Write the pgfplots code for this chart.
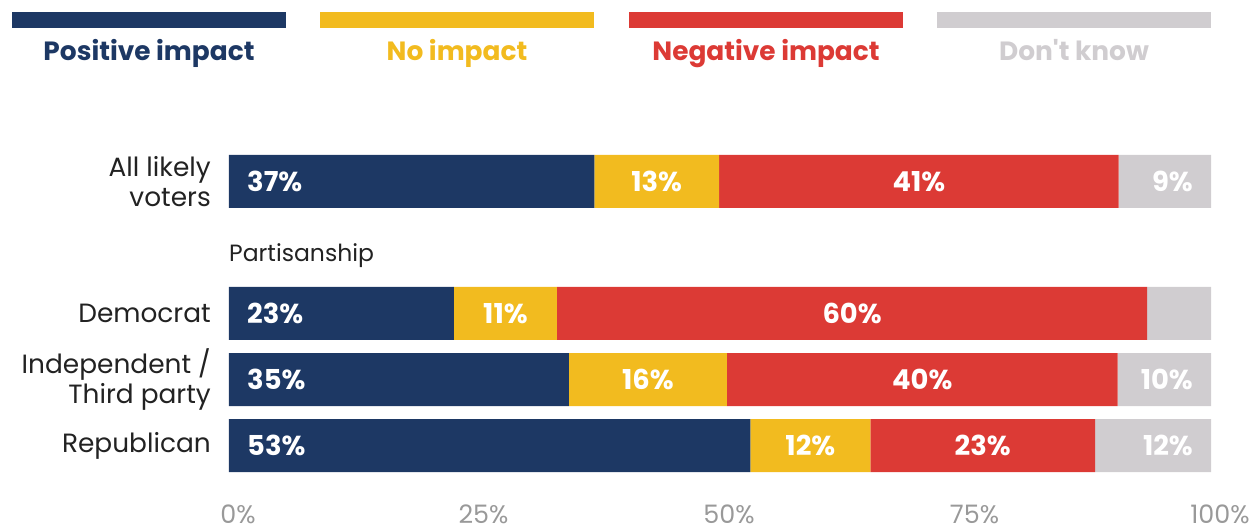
\documentclass[border=0pt]{standalone}
\usepackage{fontspec}
\setmainfont{Poppins}
\usepackage{pgfplots}
\pgfplotsset{compat=1.18}
\usepackage{pgfplotstable}

\definecolor{cpos}{HTML}{1D3864}
\definecolor{cno}{HTML}{F2BB1F}
\definecolor{cneg}{HTML}{DC3A35}
\definecolor{cdk}{HTML}{D0CDD0}
\definecolor{ctick}{HTML}{999999}
\definecolor{ctext}{HTML}{222222}

% bar segments (share of respondents, %)
\pgfplotstableread{
y pos no neg dk
0 53.1 12.2 22.9 11.8
1 34.6 16.1 39.8 9.5
2 22.9 10.5 60.1 6.5
4 37.2 12.7 40.7 9.4
}\bars

% labels at bar start (positive impact)
\pgfplotstableread{
x y lab
0 0 53
0 1 35
0 2 23
0 4 37
}\labpos

% labels centred in the middle segments
\pgfplotstableread{
x y lab
59.2 0 12
76.75 0 23
42.65 1 16
70.6 1 40
28.15 2 11
63.45 2 60
43.55 4 13
70.25 4 41
}\labmid

% labels at bar end (don't know)
\pgfplotstableread{
x y lab
100 0 12
100 1 10
100 4 9
}\labdk

\newcommand{\fs}{\fontsize{26.5}{30}\selectfont}
\newcommand{\fl}{\fontsize{26.5}{30}\selectfont\fontseries{sb}\selectfont}
\newcommand{\fb}{\fontsize{27.5}{30}\selectfont\fontseries{sb}\selectfont}

\pgfplotsset{
  base/.style={
    scale only axis, width=982bp, height=337bp,
    xmin=0, xmax=100, ymin=-0.55, ymax=4.55,
  },
}

\begin{document}
\begin{tikzpicture}
\begin{axis}[base,
  xbar stacked, bar width=53bp,
  axis line style={draw=none}, major tick length=0pt,
  ytick={0,1,2,4},
  yticklabels={Republican,{Independent /\\Third party},Democrat,{All likely\\voters}},
  yticklabel style={align=right, font=\fs, text=ctext, inner sep=0pt, xshift=-18bp},
  xtick={0,25,50,75,100},
  xticklabels={0\%,25\%,50\%,75\%,100\%},
  xticklabel style={font=\fontsize{25.5}{28}\selectfont, text=ctick, inner sep=0pt, anchor=base, yshift=-42bp, xshift=9bp},
  clip=false,
]
\addplot[fill=cpos, draw=none] table[x=pos, y=y] {\bars};
\addplot[fill=cno, draw=none] table[x=no, y=y] {\bars};
\addplot[fill=cneg, draw=none] table[x=neg, y=y] {\bars};
\addplot[fill=cdk, draw=none] table[x=dk, y=y] {\bars};
\node[anchor=west, inner sep=0pt, font=\fontsize{23.6}{28}\selectfont, text=ctext] at (axis cs:0,2.87) {Partisanship};
\coordinate (P0) at (rel axis cs:0,0);
\end{axis}

\begin{axis}[base, hide axis]
\addplot[draw=none, mark=none, point meta=explicit symbolic,
  nodes near coords={\pgfplotspointmeta\%},
  every node near coord/.style={anchor=west, inner sep=0pt, xshift=18bp, text=white, font=\fb}]
  table[x=x, y=y, meta=lab] {\labpos};
\addplot[draw=none, mark=none, point meta=explicit symbolic,
  nodes near coords={\pgfplotspointmeta\%},
  every node near coord/.style={anchor=center, inner sep=0pt, text=white, font=\fb}]
  table[x=x, y=y, meta=lab] {\labmid};
\addplot[draw=none, mark=none, point meta=explicit symbolic,
  nodes near coords={\pgfplotspointmeta\%},
  every node near coord/.style={anchor=east, inner sep=0pt, xshift=-18bp, text=white, font=\fb}]
  table[x=x, y=y, meta=lab] {\labdk};
\end{axis}

\begin{scope}[shift={(P0)}, x=1bp, y=1bp]
  \fill[cpos] (-217,454) rectangle (57,470);
  \fill[cno]  (91,454) rectangle (365,470);
  \fill[cneg] (400,454) rectangle (674,470);
  \fill[cdk]  (708,454) rectangle (982,470);
  \node[anchor=base, inner sep=0pt, font=\fl, text=cpos] at (-80,421) {Positive impact};
  \node[anchor=base, inner sep=0pt, font=\fl, text=cno] at (228,421) {No impact};
  \node[anchor=base, inner sep=0pt, font=\fl, text=cneg] at (537,421) {Negative impact};
  \node[anchor=base, inner sep=0pt, font=\fl, text=cdk] at (845,421) {Don\textquotesingle t know};
\end{scope}
\pgfresetboundingbox
\path[shift={(P0)}, x=1bp, y=1bp] (-229,-49) rectangle (1026,482);
\end{tikzpicture}
\end{document}
